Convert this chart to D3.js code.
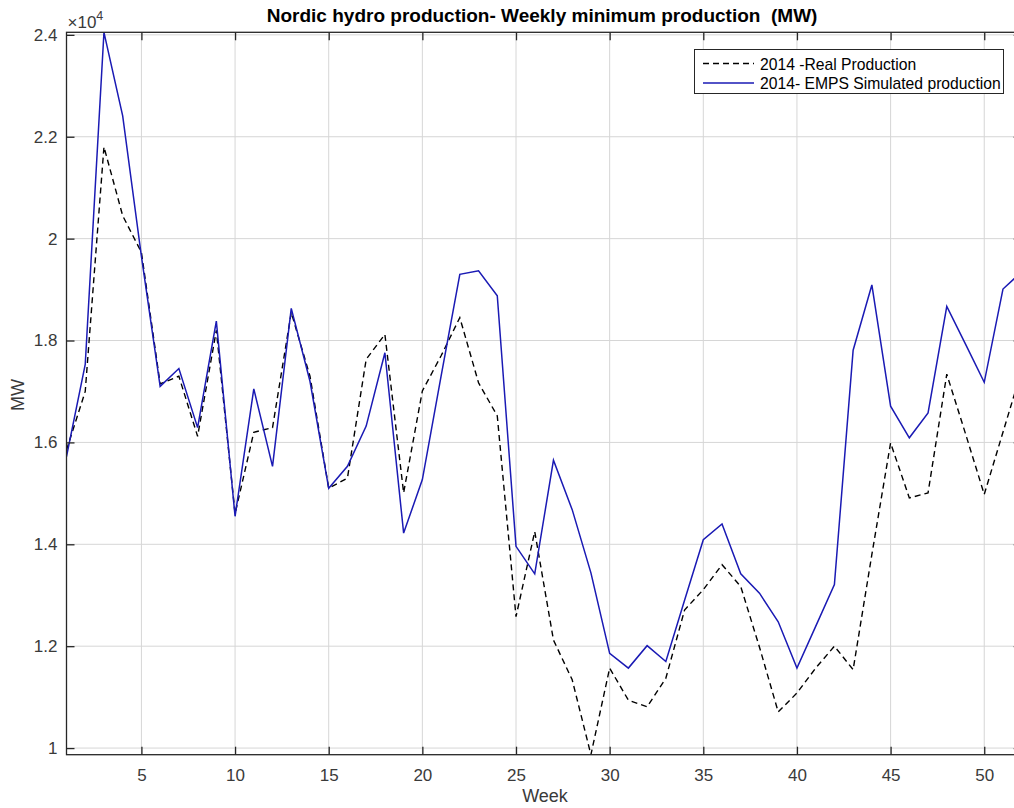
<!DOCTYPE html>
<html>
<head>
<meta charset="utf-8">
<script src="https://cdn.jsdelivr.net/npm/d3@7"></script>
<style>
  html, body { margin: 0; padding: 0; background: #ffffff; }
  svg { display: block; font-family: "Liberation Sans", Arial, Helvetica, sans-serif; }
</style>
</head>
<body>
<svg id="chart" width="1014" height="808"></svg>
<script>
// Week numbers (x values)
const weeks = [1,2,3,4,5,6,7,8,9,10,11,12,13,14,15,16,17,18,19,20,21,22,23,24,25,26,
               27,28,29,30,31,32,33,34,35,36,37,38,39,40,41,42,43,44,45,46,47,48,49,50,51,52];

// 2014 real production, weekly minimum (MW)
const realProduction = [15850,17000,21800,20450,19730,17150,17300,16120,18200,14600,16200,16290,18550,
                        17300,15100,15300,17630,18120,15010,17010,17700,18450,17170,16520,12580,14250,
                        12120,11340,9870,11570,10940,10810,11370,12710,13110,13600,13170,11980,10710,
                        11080,11570,12000,11540,13800,15990,14910,15010,17340,16170,14980,16200,17420];

// 2014 EMPS simulated production, weekly minimum (MW)
const simulatedProduction = [15720,17530,24050,22410,19650,17100,17450,16290,18380,14550,17050,15530,18630,
                             17200,15100,15530,16320,17760,14220,15270,17300,19300,19370,18880,13960,13420,
                             15650,14680,13440,11860,11570,12010,11700,12900,14090,14400,13420,13040,12480,
                             11570,12390,13210,17810,19090,16710,16090,16580,18670,17930,17180,19010,19350];

const seriesNames = ["2014 -Real Production", "2014- EMPS Simulated production"];

// Axis ticks
const xTicks = [5,10,15,20,25,30,35,40,45,50];
const yTicks = [10000,12000,14000,16000,18000,20000,22000,24000];
const yTickLabels = ["1","1.2","1.4","1.6","1.8","2","2.2","2.4"];

const svg = d3.select("#chart");
const plot = { left: 66.5, right: 1021.7, top: 32.3, bottom: 754.7 };
const axisColor = "#262626";
const labelColor = "#3a3a3a";
const gridColor = "#d6d6d6";
const tickLen = 8;

const allValues = realProduction.concat(simulatedProduction);
const x = d3.scaleLinear().domain([d3.min(weeks), d3.max(weeks)]).range([plot.left, plot.right]);
const y = d3.scaleLinear().domain([d3.min(allValues), d3.max(allValues)]).range([plot.bottom, plot.top]);

// Grid lines
const grid = svg.append("g");
grid.selectAll("line.gx").data(xTicks).join("line")
  .attr("x1", d => x(d)).attr("x2", d => x(d))
  .attr("y1", plot.top).attr("y2", plot.bottom)
  .attr("stroke", gridColor).attr("stroke-width", 1);
grid.selectAll("line.gy").data(yTicks).join("line")
  .attr("x1", plot.left).attr("x2", plot.right)
  .attr("y1", d => y(d)).attr("y2", d => y(d))
  .attr("stroke", gridColor).attr("stroke-width", 1);

// Series lines
svg.append("clipPath").attr("id", "plotClip").append("rect")
  .attr("x", plot.left).attr("y", plot.top - 2)
  .attr("width", plot.right - plot.left).attr("height", plot.bottom - plot.top + 4);

const line = d3.line().x((d, i) => x(weeks[i])).y(d => y(d));
const lines = svg.append("g").attr("clip-path", "url(#plotClip)");
lines.append("path").datum(realProduction)
  .attr("d", line).attr("fill", "none")
  .attr("stroke", "#000000").attr("stroke-width", 1.4)
  .attr("stroke-dasharray", "6,4");
lines.append("path").datum(simulatedProduction)
  .attr("d", line).attr("fill", "none")
  .attr("stroke", "#1a1ab4").attr("stroke-width", 1.5);

// Axes: bottom, left (labelled), top, right (ticks only, inward)
const xAxisB = d3.axisBottom(x).tickValues(xTicks).tickSize(-tickLen).tickPadding(14).tickFormat(d3.format("d"));
const xAxisT = d3.axisTop(x).tickValues(xTicks).tickSize(-tickLen).tickFormat("");
const yAxisL = d3.axisLeft(y).tickValues(yTicks).tickSize(-tickLen).tickPadding(9)
  .tickFormat(d => yTickLabels[yTicks.indexOf(d)]);
const yAxisR = d3.axisRight(y).tickValues(yTicks).tickSize(-tickLen).tickFormat("");

function styleAxis(g) {
  g.select(".domain").remove();
  g.selectAll(".tick line").attr("stroke", axisColor).attr("stroke-width", 1.3);
  g.selectAll(".tick text").attr("fill", labelColor).style("font-size", "17px")
    .style("font-family", "'Liberation Sans', Arial, sans-serif");
}
svg.append("g").attr("transform", `translate(0,${plot.bottom})`).call(xAxisB).call(styleAxis);
svg.append("g").attr("transform", `translate(0,${plot.top})`).call(xAxisT).call(styleAxis);
svg.append("g").attr("transform", `translate(${plot.left},0)`).call(yAxisL).call(styleAxis);
svg.append("g").attr("transform", `translate(${plot.right},0)`).call(yAxisR).call(styleAxis);

// Axes box
svg.append("rect")
  .attr("x", plot.left).attr("y", plot.top)
  .attr("width", plot.right - plot.left).attr("height", plot.bottom - plot.top)
  .attr("fill", "none").attr("stroke", axisColor).attr("stroke-width", 1.3);

// Exponent marker
const expo = svg.append("text").attr("x", plot.left + 1).attr("y", 28)
  .attr("fill", labelColor).style("font-size", "17px");
expo.append("tspan").text("\u00d710");
expo.append("tspan").attr("dy", -8).style("font-size", "12.5px").text("4");

// Title and axis labels
svg.append("text").attr("x", (plot.left + plot.right) / 2 - 2).attr("y", 22)
  .attr("text-anchor", "middle").attr("fill", "#000")
  .attr("xml:space", "preserve").style("white-space", "pre")
  .style("font-size", "19px").style("font-weight", "bold")
  .text("Nordic hydro production- Weekly minimum production  (MW)");
svg.append("text").attr("x", 545).attr("y", 802)
  .attr("text-anchor", "middle").attr("fill", labelColor).style("font-size", "18px")
  .text("Week");
svg.append("text").attr("transform", "translate(24,395) rotate(-90)")
  .attr("text-anchor", "middle").attr("fill", labelColor).style("font-size", "18px")
  .text("MW");

// Legend
const lg = svg.append("g");
lg.append("rect").attr("x", 694.5).attr("y", 49.5).attr("width", 309).attr("height", 44)
  .attr("fill", "#ffffff").attr("stroke", axisColor).attr("stroke-width", 1);
const legendStyles = [
  { color: "#000000", dash: "6,4", width: 1.4 },
  { color: "#1a1ab4", dash: null, width: 1.5 }
];
seriesNames.forEach((name, i) => {
  const ly = 63.5 + i * 19.5;
  lg.append("line").attr("x1", 703).attr("x2", 754).attr("y1", ly).attr("y2", ly)
    .attr("stroke", legendStyles[i].color).attr("stroke-width", legendStyles[i].width)
    .attr("stroke-dasharray", legendStyles[i].dash);
  lg.append("text").attr("x", 760).attr("y", ly + 6).attr("fill", "#000")
    .style("font-size", "15.7px").text(name);
});
</script>
</body>
</html>
